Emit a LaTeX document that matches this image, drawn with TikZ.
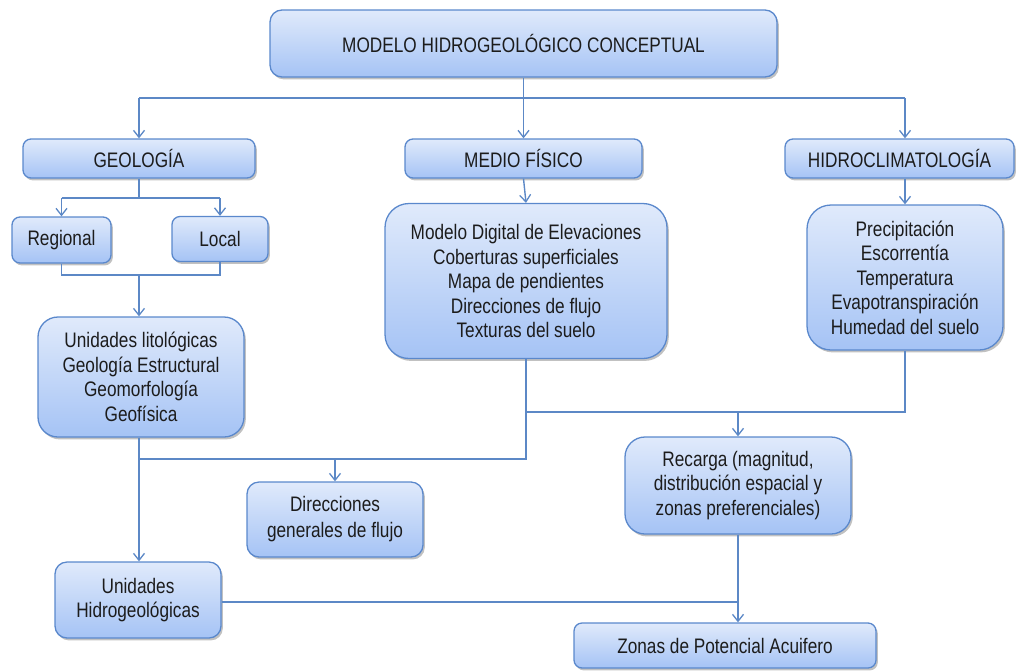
\documentclass[tikz,border=0pt]{standalone}
\usepackage{fontspec}
\setmainfont{Liberation Sans}[FakeStretch=0.82]
\usetikzlibrary{arrows.meta,shadows}
\definecolor{boxtop}{HTML}{E0EAFB}
\definecolor{boxbot}{HTML}{A5C3F5}
\definecolor{boxline}{HTML}{5A88CC}
\definecolor{wire}{HTML}{5C88C6}
\definecolor{ink}{HTML}{1C1C1C}
\tikzset{
  box/.style={draw=boxline, line width=1.3pt, top color=boxtop, bottom color=boxbot,
    text=ink, align=center, inner sep=0pt,
    font=\fontsize{21}{24.5}\selectfont,
    drop shadow={shadow xshift=1.8pt, shadow yshift=-2.4pt, opacity=0.35, fill=black!70}},
  wirel/.style={draw=wire, line width=1.4pt},
  arr/.style={wirel, -{Straight Barb[length=7pt,width=11pt,line width=1.3pt]}},
}
\begin{document}
\begin{tikzpicture}[x=1pt,y=-1pt]
\useasboundingbox (0,0) rectangle (1016,670);

% boxes
\node[box, rounded corners=12pt, minimum width=507pt, minimum height=67pt] (top) at (523.5,43.5) {MODELO HIDROGEOLÓGICO CONCEPTUAL};
\node[box, rounded corners=8pt, minimum width=232pt, minimum height=39pt] (geo) at (139,158.5) {GEOLOGÍA};
\node[box, rounded corners=8pt, minimum width=237pt, minimum height=39pt] (medio) at (523.5,158.5) {MEDIO FÍSICO};
\node[box, rounded corners=8pt, minimum width=229pt, minimum height=39pt] (hidro) at (899.5,158.5) {HIDROCLIMATOLOGÍA};

\node[box, rounded corners=8pt, minimum width=99pt, minimum height=46pt] (reg) at (61.5,240) {Regional};
\node[box, rounded corners=8pt, minimum width=96pt, minimum height=45pt] (loc) at (220,239) {Local};

\node[box, rounded corners=24pt, minimum width=282pt, minimum height=155pt] (mbody) at (526,281)
  {Modelo Digital de Elevaciones\\Coberturas superficiales\\Mapa de pendientes\\Direcciones de flujo\\Texturas del suelo};
\node[box, rounded corners=24pt, minimum width=196pt, minimum height=145pt] (hbody) at (905,277.5)
  {Precipitación\\Escorrentía\\Temperatura\\Evapotranspiración\\Humedad del suelo};

\node[box, rounded corners=20pt, minimum width=206pt, minimum height=120pt] (lito) at (141,377)
  {Unidades litológicas\\Geología Estructural\\Geomorfología\\Geofísica};
\node[box, rounded corners=20pt, minimum width=226pt, minimum height=97pt] (rec) at (738,485.5)
  {Recarga (magnitud,\\distribución espacial y\\zonas preferenciales)};
\node[box, rounded corners=12pt, minimum width=176pt, minimum height=75pt, font=\fontsize{21}{26}\selectfont] (dir) at (335,519.5)
  {Direcciones\\generales de flujo};
\node[box, rounded corners=12pt, minimum width=166pt, minimum height=76pt] (uh) at (138,600)
  {Unidades\\Hidrogeológicas};
\node[box, rounded corners=8pt, minimum width=302pt, minimum height=45pt] (zonas) at (725,645.5)
  {Zonas de Potencial Acuifero};

% junction rows
\coordinate (row1) at (0,98);
\coordinate (row2) at (0,198);
\coordinate (row3) at (0,275);
\coordinate (row4) at (0,412);
\coordinate (row5) at (0,459);

% top level fan-out
\draw[arr] (top.south) -- (medio.north);
\draw[wirel] (geo.north |- row1) -- (hbody.north |- row1);
\draw[arr] (geo.north |- row1) -- (geo.north);
\draw[arr] (hbody.north |- row1) -- (hbody.north |- hidro.north);
\draw[arr] (hbody.north |- hidro.south) -- (hbody.north);
\draw[arr] (medio.south) -- (mbody.north);

% geology branch
\draw[wirel] (geo.south) -- (geo.south |- row2);
\draw[wirel] (reg.north |- row2) -- (loc.north |- row2);
\draw[arr] (reg.north |- row2) -- (reg.north);
\draw[arr] (loc.north |- row2) -- (loc.north);
\draw[wirel] (reg.south) -- (reg.south |- row3) -- (loc.south |- row3) -- (loc.south);
\draw[arr] (geo.south |- row3) -- (geo.south |- lito.north);

% flow directions and hydrogeological units
\draw[arr] (geo.south |- lito.south) -- (geo.south |- uh.north);
\draw[wirel] (geo.south |- row5) -- (mbody.south |- row5) -- (mbody.south);
\draw[arr] (dir.north |- row5) -- (dir.north);

% recharge
\draw[wirel] (mbody.south |- row4) -- (hbody.south |- row4) -- (hbody.south);
\draw[arr] (rec.north |- row4) -- (rec.north);
\draw[arr] (rec.south) -- (rec.south |- zonas.north);
\draw[wirel] (uh.east |- 0,602) -- (rec.south |- 0,602);
\end{tikzpicture}
\end{document}
